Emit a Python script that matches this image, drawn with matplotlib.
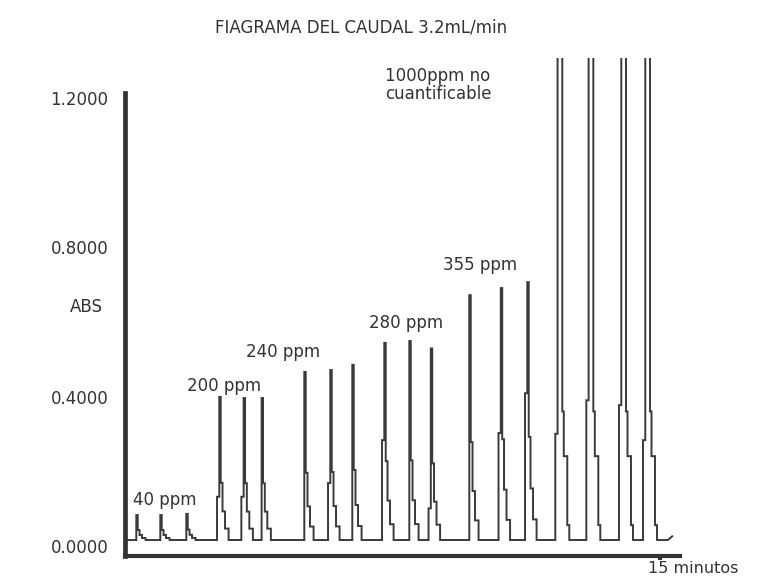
import matplotlib
matplotlib.use("Agg")
import matplotlib.pyplot as plt

# ---- data ----
groups = ["40 ppm", "200 ppm", "240 ppm", "280 ppm", "355 ppm", "1000ppm no\ncuantificable"]
peak_group = [0, 0, 0, 1, 1, 1, 2, 2, 2, 3, 3, 3, 4, 4, 4, 5, 5, 5, 5]
peak_times = [0.336, 1.009, 1.738,
              2.663, 3.345, 3.849,
              5.046, 5.775, 6.392,
              7.289, 7.990, 8.593,
              9.672, 10.555, 11.298,
              12.147, 13.017, 13.933, 14.606]
peak_heights = [0.082, 0.082, 0.085,
                0.399, 0.396, 0.396,
                0.466, 0.471, 0.485,
                0.544, 0.549, 0.529,
                0.672, 0.691, 0.707,
                1.60, 1.60, 1.60, 1.60]
# level of the small step on the rising edge (0 = none)
peak_shoulders = [0, 0, 0,
                  0.131, 0.131, 0,
                  0, 0.168, 0,
                  0.283, 0, 0.10,
                  0, 0.302, 0.409,
                  0.30, 0.39, 0.377, 0.283]
baseline = 0.015
trace_start, trace_end, end_level = 0.08, 15.34, 0.025
# falling-edge profile of quantifiable peaks (offset in min, fraction of height)
fall_dt = [0.02, 0.02, 0.07, 0.07, 0.14, 0.14, 0.24, 0.24]
fall_fr = [1.0, 0.40, 0.40, 0.20, 0.20, 0.08, 0.08, 0.0]
# falling-edge profile of saturated 1000 ppm peaks (offset in min, ABS level)
sat_dt = [0.112, 0.112, 0.154, 0.154, 0.252, 0.252, 0.308, 0.308]
sat_lv = [None, 0.36, 0.36, 0.24, 0.24, 0.055, 0.055, 0.015]
ytick_vals = [0.0, 0.4, 0.8, 1.2]
ytick_labels = ["0.0000", "0.4000", "0.8000", "1.2000"]

# ---- build trace ----
xs = [trace_start]
ys = [baseline]
for t, h, s, g in zip(peak_times, peak_heights, peak_shoulders, peak_group):
    lvl = s if s > 0 else baseline
    xs += [t - 0.084, t - 0.084, t - 0.02, t - 0.02]
    ys += [baseline, lvl, lvl, h]
    if g == 5:
        xs += [t + d for d in sat_dt]
        ys += [h if v is None else v for v in sat_lv]
    else:
        xs += [t + d for d in fall_dt]
        ys += [baseline + f * (h - baseline) for f in fall_fr]
xs += [15.05, trace_end - 0.12, trace_end]
ys += [baseline, baseline, end_level]

fig = plt.figure(figsize=(7.61, 5.78), dpi=100)
ax = fig.add_axes([0.1643, 0.038, 0.7293, 0.862])
ax.plot(xs, ys, color="#3a3a3a", lw=1.4, solid_joinstyle="miter")
ax.set_xlim(0, 15.56)
ax.set_ylim(-0.028, 1.309)

for s in ["top", "right"]:
    ax.spines[s].set_visible(False)
ax.spines["left"].set_linewidth(3.4)
ax.spines["left"].set_color("#333333")
ax.spines["left"].set_bounds(-0.028, 1.215)
ax.spines["bottom"].set_linewidth(3.0)
ax.spines["bottom"].set_color("#333333")

ax.set_yticks(ytick_vals)
ax.set_yticklabels(ytick_labels)
ax.tick_params(axis="y", length=0, pad=12, labelsize=12, labelcolor="#333333")
ax.set_xticks([15])
ax.set_xticklabels([""])
ax.tick_params(axis="x", length=3, width=3, color="#333333", direction="out")

fs = 12
label_pos = [(0.22, 0.122), (1.74, 0.428), (3.39, 0.519), (6.84, 0.597), (8.92, 0.753), (7.29, 1.236)]
for g, (x, y) in zip(groups, label_pos):
    ax.text(x, y, g, fontsize=fs, color="#333333", ha="left", va="center", linespacing=1.05)

ax.text(-1.07, 0.64, "ABS", fontsize=fs, color="#333333", ha="center", va="center", clip_on=False)
ax.text(14.66, -0.061, "15 minutos", fontsize=11.5, color="#333333", ha="left", va="center", clip_on=False)
fig.text(0.475, 0.953, "FIAGRAMA DEL CAUDAL 3.2mL/min", fontsize=fs, color="#333333", ha="center", va="center")

fig.savefig("out.png", dpi=100)
